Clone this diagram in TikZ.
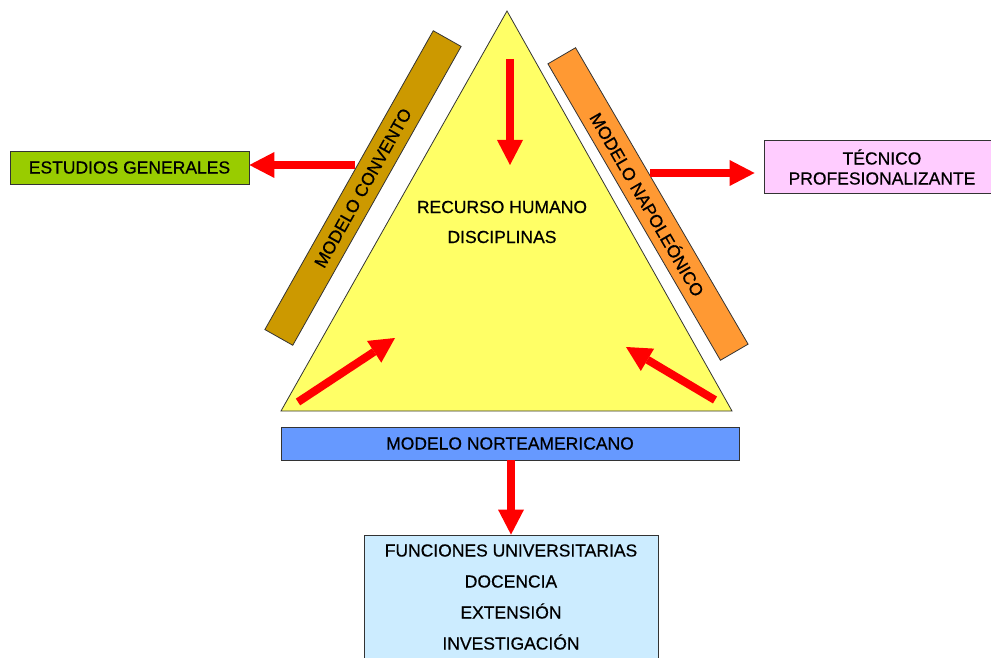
\documentclass[tikz,border=0pt]{standalone}
\usepackage{fontspec}
\setmainfont{Liberation Sans}[BoldFont=Liberation Sans, BoldFeatures={FakeBold=0.5}]
\usetikzlibrary{arrows.meta}
\definecolor{cGreen}{HTML}{99CC00}
\definecolor{cPink}{HTML}{FFCCFF}
\definecolor{cBlue}{HTML}{6699FF}
\definecolor{cLight}{HTML}{CCECFF}
\definecolor{cGold}{HTML}{CC9900}
\definecolor{cOrange}{HTML}{FF9933}
\definecolor{cYellow}{HTML}{FFFF66}
\definecolor{cRed}{HTML}{FF0000}
\definecolor{cEdge}{HTML}{333333}
\begin{document}
\begin{tikzpicture}[x=1pt,y=-1pt,
  box/.style={draw=cEdge, line width=0.8pt, inner sep=0pt, align=center,
    font=\fontsize{17.5}{21}\selectfont\bfseries},
  bar/.style={box, minimum width=343pt, minimum height=32pt},
  redarrow/.style={draw=cRed, line width=8pt,
    -{Triangle[width=26pt,length=25pt,line width=0pt]}}]
\useasboundingbox (0,0) rectangle (991,658);

% central triangle
\coordinate (apex) at (507,11);
\coordinate (bl) at (281,411);
\coordinate (br) at (732,411);
\filldraw[fill=cYellow, draw=cEdge, line width=0.8pt] (bl) -- (apex) -- (br) -- cycle;
\node[align=center, font=\fontsize{17.5}{30}\selectfont\bfseries] (centre) at (502,222)
  {RECURSO HUMANO\\DISCIPLINAS};

% slanted model bars
\node[bar, fill=cGold, rotate=60.6] (convento) at (363,188) {MODELO CONVENTO};
\node[bar, fill=cOrange, rotate=-59.8] (napoleon) at (648,204) {MODELO NAPOLEÓNICO};

% outcome boxes
\node[box, fill=cGreen, minimum width=239pt, minimum height=33pt] (estudios)
  at (129.5,167.5) {ESTUDIOS GENERALES};
\node[box, fill=cPink, minimum width=236pt, minimum height=53pt,
  font=\fontsize{17.5}{20}\selectfont\bfseries] (tecnico)
  at (882,167) {TÉCNICO\\PROFESIONALIZANTE};
\node[box, fill=cBlue, minimum width=458pt, minimum height=33pt] (norte)
  at (510,443.5) {MODELO NORTEAMERICANO};
\node[box, fill=cLight, minimum width=294pt, minimum height=124pt,
  font=\fontsize{17.5}{31}\selectfont\bfseries] (funciones)
  at (511,597) {FUNCIONES UNIVERSITARIAS\\DOCENCIA\\EXTENSIÓN\\INVESTIGACIÓN};

% arrow anchor points
\coordinate (cstart) at (355,165);
\coordinate (nstart) at (650,173);
\coordinate (tstart) at (510,59);
\coordinate (tend) at (510,165);
\coordinate (lstart) at (298,402);
\coordinate (lend) at (395,338);
\coordinate (rstart) at (715,400);
\coordinate (rend) at (626,347);

% arrows
\draw[redarrow] (cstart) -- (cstart -| estudios.east);
\draw[redarrow, shorten >=9pt] (nstart) -- (nstart -| tecnico.west);
\draw[redarrow] (tstart) -- (tend);
\draw[redarrow] (lstart) -- (lend);
\draw[redarrow] (rstart) -- (rend);
\draw[redarrow] (norte.south -| funciones.north) -- (funciones.north);
\end{tikzpicture}
\end{document}
